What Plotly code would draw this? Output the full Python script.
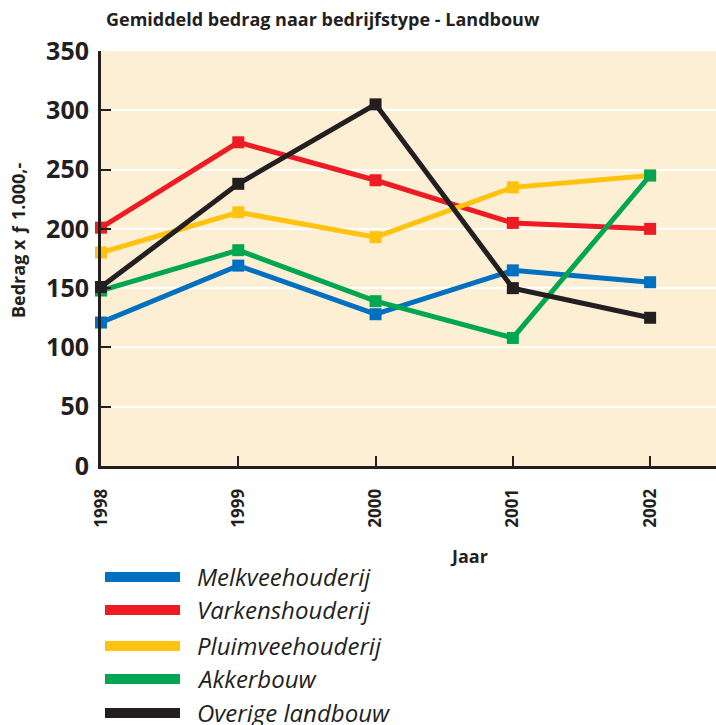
import plotly.graph_objects as go

years = [1998, 1999, 2000, 2001, 2002]
series_names = ["Melkveehouderij", "Varkenshouderij", "Pluimveehouderij", "Akkerbouw", "Overige landbouw"]
melkvee = [121, 169, 128, 165, 155]
varkens = [201, 273, 241, 205, 200]
pluimvee = [180, 214, 193, 235, 245]
akkerbouw = [148, 182, 139, 108, 245]
overige = [151, 238, 305, 150, 125]
y_ticks = [0, 50, 100, 150, 200, 250, 300, 350]

colors = ["#0070C0", "#ED1C24", "#FFC20E", "#00A651", "#231F20"]
values = [melkvee, varkens, pluimvee, akkerbouw, overige]
FONT = "Open Sans"
TXT = "#231F20"

L, T, PW, PH = 101, 51, 615, 415


def px(x):
    return (x - L) / PW


def py(y):
    return 1 - (y - T) / PH


fig = go.Figure()
for name, vals, col in zip(series_names, values, colors):
    fig.add_trace(go.Scatter(
        x=years, y=vals, name=name, mode="lines+markers",
        line=dict(color=col, width=5),
        marker=dict(symbol="square", size=12, color=col),
        cliponaxis=False, showlegend=False,
    ))

# manual legend below the chart
leg_y = [577, 610, 646, 679, 713]
for name, col, yy in zip(series_names, colors, leg_y):
    fig.add_shape(type="line", xref="paper", yref="paper",
                  x0=px(105), x1=px(180), y0=py(yy), y1=py(yy),
                  line=dict(color=col, width=10))
    fig.add_annotation(xref="paper", yref="paper", x=px(195), y=py(yy - 1),
                       text="<i>" + name + "</i>", showarrow=False,
                       xanchor="left", yanchor="middle",
                       font=dict(family=FONT, size=24, color=TXT))

fig.add_annotation(xref="paper", yref="paper", x=px(469), y=py(556),
                   text="<b>Jaar</b>", showarrow=False, xanchor="center", yanchor="middle",
                   font=dict(family=FONT, size=18, color=TXT))
fig.add_annotation(xref="paper", yref="paper", x=px(18), y=py(241),
                   text="<b>Bedrag x ƒ 1.000,-</b>", showarrow=False, textangle=-90,
                   xanchor="center", yanchor="middle",
                   font=dict(family=FONT, size=18, color=TXT))

fig.update_layout(
    width=716, height=725,
    margin=dict(l=L, r=0, t=T, b=725 - T - PH),
    paper_bgcolor="white", plot_bgcolor="#FDEFD3",
    title=dict(text="<b>Gemiddeld bedrag naar bedrijfstype - Landbouw</b>",
               x=106 / 716, xanchor="left", y=1 - 20 / 725, yanchor="middle",
               font=dict(family=FONT, size=18, color=TXT)),
    font=dict(family=FONT, color=TXT),
)
fig.update_xaxes(
    range=[1998, 2002.48], tickvals=years, ticktext=[str(y) for y in years],
    tickangle=-90, ticks="inside", ticklen=10, tickwidth=2, tickcolor=TXT,
    showline=True, linecolor=TXT, linewidth=3, showgrid=False, zeroline=False,
    tickfont=dict(family=FONT, size=17, color=TXT, weight="bold"),
    ticklabelstandoff=13,
)
fig.update_yaxes(
    range=[0, 350], tickvals=y_ticks, ticks="inside", ticklen=10, tickwidth=2, tickcolor=TXT,
    showline=True, linecolor=TXT, linewidth=3, showgrid=True, gridcolor="white", gridwidth=2,
    zeroline=False,
    tickfont=dict(family=FONT, size=25, color=TXT, weight="bold"),
    ticklabelstandoff=4,
)
fig.write_html("out.html", config={"displayModeBar": False},
               post_script="document.body.style.margin='0';")
